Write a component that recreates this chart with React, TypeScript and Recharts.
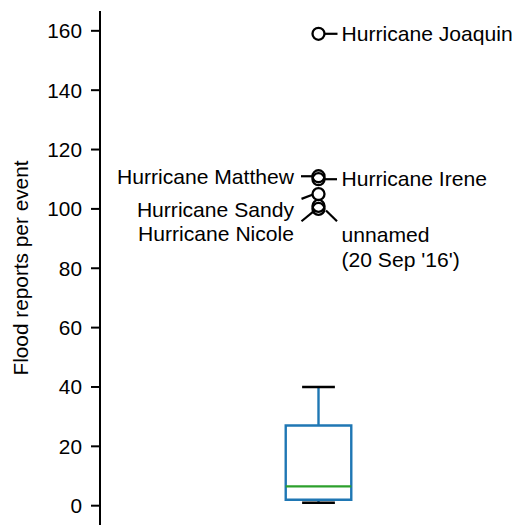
import React from 'react';
import {
  ComposedChart,
  XAxis,
  YAxis,
  Scatter,
  ReferenceArea,
  ReferenceLine,
  Label,
} from 'recharts';

// ---- data ----
const Y_TICKS = [0, 20, 40, 60, 80, 100, 120, 140, 160];
const Y_DOMAIN = [-18.3, 166.68];
const X_DOMAIN = [0.5, 1.5];
const BOX_POSITION = 1;
const WHISKER_LOW = 1;
const Q1 = 2;
const MEDIAN = 6.5;
const Q3 = 27;
const WHISKER_HIGH = 40;

const OUTLIER_NAMES: string[][] = [
  ['Hurricane Joaquin'],
  ['Hurricane Matthew'],
  ['Hurricane Irene'],
  ['Hurricane Sandy'],
  ['Hurricane Nicole'],
  ['unnamed', "(20 Sep '16')"],
];
const OUTLIER_VALUES = [159, 111, 110, 105, 101, 100];

// ---- annotation layout (pixel offsets from the point, like offset points) ----
type Layout = { tx: number; ty: number; anchor: 'start' | 'end'; l1: [number, number]; l2: [number, number] };
const LABEL_LAYOUT: Layout[] = [
  { tx: 23, ty: 7.5, anchor: 'start', l1: [6, 0], l2: [19, 0] },
  { tx: -24.5, ty: 7.3, anchor: 'end', l1: [-6, 0], l2: [-17.5, 0] },
  { tx: 23, ty: 7.0, anchor: 'start', l1: [6, 0], l2: [18.5, 0] },
  { tx: -24.5, ty: 22.5, anchor: 'end', l1: [-5.5, 0.5], l2: [-17, 4.8] },
  { tx: -24.5, ty: 35.3, anchor: 'end', l1: [-4, 4.6], l2: [-17, 15.3] },
  { tx: 23, ty: 33.1, anchor: 'start', l1: [7.5, 1.6], l2: [18.5, 12.3] },
];

const FONT = '"Liberation Sans", Arial, Helvetica, sans-serif';
const FS = 20.8;
const FS_ANN = 21.1;
const BLUE = '#1f77b4';
const GREEN = '#2ca02c';
const BOX_HALF = 0.075;
const CAP_HALF = 0.0375;
const LW = 2.4;

const outlierData = OUTLIER_VALUES.map((v, i) => ({ x: BOX_POSITION, y: v, idx: i }));

const OutlierShape = (props: any) => {
  const { cx, cy, payload } = props;
  const i = payload.idx;
  const lay = LABEL_LAYOUT[i];
  const lines = OUTLIER_NAMES[i];
  return (
    <g>
      <circle cx={cx} cy={cy} r={6} fill="none" stroke="#000" strokeWidth={2.3} />
      <line
        x1={cx + lay.l1[0]}
        y1={cy + lay.l1[1]}
        x2={cx + lay.l2[0]}
        y2={cy + lay.l2[1]}
        stroke="#000"
        strokeWidth={2.2}
      />
      <text
        x={cx + lay.tx}
        y={cy + lay.ty}
        textAnchor={lay.anchor}
        fontFamily={FONT}
        fontSize={FS_ANN}
        fill="#000"
      >
        {lines.map((t, k) => (
          <tspan key={k} x={cx + lay.tx} dy={k === 0 ? 0 : FS * 1.2}>
            {t}
          </tspan>
        ))}
      </text>
    </g>
  );
};

export default function App() {
  return (
    <div
      style={{
        position: 'absolute',
        left: 0,
        top: 0,
        width: 528,
        height: 525,
        overflow: 'hidden',
        background: '#fff',
      }}
    >
      <ComposedChart
        width={560}
        height={580}
        data={outlierData}
        margin={{ top: 11, right: 23, bottom: 20, left: 0 }}
      >
        <XAxis
          xAxisId="x"
          dataKey="x"
          type="number"
          orientation="top"
          domain={X_DOMAIN}
          allowDataOverflow
          height={0}
          tick={false}
          tickLine={false}
          axisLine={{ stroke: '#000', strokeWidth: 2 }}
        />
        <YAxis
          yAxisId="y"
          dataKey="y"
          type="number"
          domain={Y_DOMAIN}
          allowDataOverflow
          ticks={Y_TICKS}
          width={100}
          tickSize={9}
          tickMargin={9}
          axisLine={{ stroke: '#000', strokeWidth: 2 }}
          tickLine={{ stroke: '#000', strokeWidth: 2 }}
          tick={{ fontSize: FS, fill: '#000', fontFamily: FONT }}
        >
          <Label
            content={() => (
              <text
                x={28}
                y={268}
                transform="rotate(-90 28 268)"
                textAnchor="middle"
                fontFamily={FONT}
                fontSize={FS}
                fill="#000"
              >
                Flood reports per event
              </text>
            )}
          />
        </YAxis>
        {/* whiskers */}
        <ReferenceLine
          xAxisId="x"
          yAxisId="y"
          segment={[
            { x: BOX_POSITION, y: Q3 },
            { x: BOX_POSITION, y: WHISKER_HIGH },
          ]}
          stroke={BLUE}
          strokeWidth={LW}
        />
        <ReferenceLine
          xAxisId="x"
          yAxisId="y"
          segment={[
            { x: BOX_POSITION, y: WHISKER_LOW },
            { x: BOX_POSITION, y: Q1 },
          ]}
          stroke={BLUE}
          strokeWidth={LW}
        />
        {/* box */}
        <ReferenceArea
          xAxisId="x"
          yAxisId="y"
          x1={BOX_POSITION - BOX_HALF}
          x2={BOX_POSITION + BOX_HALF}
          y1={Q1}
          y2={Q3}
          fill="none"
          fillOpacity={0}
          stroke={BLUE}
          strokeWidth={LW}
          strokeOpacity={1}
        />
        {/* median */}
        <ReferenceLine
          xAxisId="x"
          yAxisId="y"
          segment={[
            { x: BOX_POSITION - BOX_HALF, y: MEDIAN },
            { x: BOX_POSITION + BOX_HALF, y: MEDIAN },
          ]}
          stroke={GREEN}
          strokeWidth={LW}
        />
        {/* caps */}
        <ReferenceLine
          xAxisId="x"
          yAxisId="y"
          segment={[
            { x: BOX_POSITION - CAP_HALF, y: WHISKER_HIGH },
            { x: BOX_POSITION + CAP_HALF, y: WHISKER_HIGH },
          ]}
          stroke="#000"
          strokeWidth={LW}
        />
        <ReferenceLine
          xAxisId="x"
          yAxisId="y"
          segment={[
            { x: BOX_POSITION - CAP_HALF, y: WHISKER_LOW },
            { x: BOX_POSITION + CAP_HALF, y: WHISKER_LOW },
          ]}
          stroke="#000"
          strokeWidth={LW}
        />
        <Scatter
          xAxisId="x"
          yAxisId="y"
          data={outlierData}
          dataKey="y"
          shape={OutlierShape}
          isAnimationActive={false}
        />
      </ComposedChart>
    </div>
  );
}
